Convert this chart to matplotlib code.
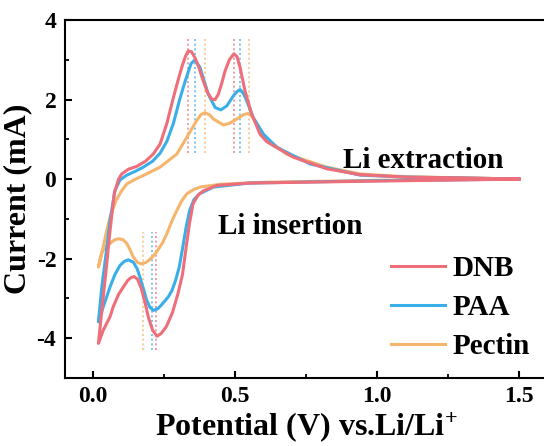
import matplotlib
matplotlib.use("Agg")
import matplotlib.pyplot as plt
from matplotlib.ticker import MultipleLocator

plt.rcParams['font.family'] = ['Liberation Serif', 'DejaVu Serif']
plt.rcParams['font.weight'] = 'bold'
plt.rcParams['mathtext.fontset'] = 'custom'
plt.rcParams['mathtext.rm'] = 'Liberation Serif:bold'
plt.rcParams['mathtext.it'] = 'Liberation Serif:bold'
plt.rcParams['mathtext.bf'] = 'Liberation Serif:bold'

# ---- data ----
# DNB
dnb_cat_x = [1.5, 1.2, 1.0, 0.729, 0.55, 0.436, 0.39, 0.37, 0.352, 0.34, 0.328, 0.315, 0.299,
             0.28, 0.258, 0.24, 0.225, 0.21, 0.196, 0.183, 0.17, 0.157, 0.145, 0.133, 0.122,
             0.106, 0.09, 0.071, 0.06, 0.036, 0.019]
dnb_cat_y = [0.0, -0.03, -0.05, -0.08, -0.1, -0.16, -0.29, -0.4, -0.62, -1.1, -1.71, -2.4, -2.88,
             -3.35, -3.71, -3.88, -3.95, -3.8, -3.5, -3.1, -2.75, -2.52, -2.45, -2.48, -2.55,
             -2.72, -2.9, -3.21, -3.46, -3.8, -4.13]
dnb_an_x = [0.019, 0.031, 0.046, 0.06, 0.075, 0.09, 0.101, 0.125, 0.154, 0.185, 0.212, 0.236,
            0.26, 0.283, 0.3, 0.312, 0.325, 0.335, 0.347, 0.359, 0.373, 0.388, 0.403, 0.418,
            0.43, 0.441, 0.453, 0.465, 0.48, 0.496, 0.507, 0.518, 0.535, 0.559, 0.588, 0.61,
            0.635, 0.705, 0.823, 0.94, 1.1, 1.3, 1.5]
dnb_an_y = [-4.13, -3.3, -2.29, -1.29, -0.35, 0.0, 0.13, 0.25, 0.32, 0.45, 0.63, 0.88,
            1.4, 2.05, 2.5, 2.8, 3.08, 3.22, 3.2, 3.05, 2.8, 2.47, 2.18, 2.01,
            2.0, 2.13, 2.4, 2.72, 3.0, 3.15, 3.08, 2.8, 2.22, 1.63, 1.13, 0.95,
            0.84, 0.55, 0.26, 0.11, 0.05, 0.03, 0.0]

# PAA
paa_cat_x = [1.5, 1.0, 0.55, 0.424, 0.375, 0.355, 0.34, 0.328, 0.316, 0.304, 0.291, 0.278,
             0.265, 0.24, 0.228, 0.212, 0.2, 0.189, 0.177, 0.165, 0.155, 0.142, 0.124, 0.11,
             0.095, 0.077, 0.06, 0.036, 0.019]
paa_cat_y = [0.0, -0.04, -0.1, -0.2, -0.37, -0.52, -0.79, -1.2, -1.71, -2.2, -2.54, -2.8,
             -2.96, -3.17, -3.26, -3.3, -3.22, -3.05, -2.75, -2.46, -2.25, -2.09, -2.03, -2.07,
             -2.17, -2.4, -2.71, -3.21, -3.59]
paa_an_x = [0.019, 0.031, 0.046, 0.06, 0.077, 0.095, 0.119, 0.15, 0.177, 0.21, 0.236, 0.26,
            0.283, 0.305, 0.324, 0.345, 0.359, 0.377, 0.392, 0.406, 0.43, 0.45, 0.471, 0.494,
            0.507, 0.518, 0.53, 0.541, 0.564, 0.6, 0.647, 0.764, 0.94, 1.1, 1.3, 1.5]
paa_an_y = [-3.58, -2.71, -1.87, -1.04, -0.29, -0.02, 0.1, 0.2, 0.3, 0.45, 0.65, 0.95,
            1.4, 2.0, 2.45, 2.9, 3.0, 2.8, 2.45, 2.13, 1.8, 1.74, 1.84, 2.09,
            2.2, 2.25, 2.15, 1.97, 1.55, 1.13, 0.8, 0.38, 0.1, 0.05, 0.03, 0.0]

# Pectin
pec_cat_x = [1.5, 1.0, 0.6, 0.45, 0.377, 0.355, 0.33, 0.312, 0.295, 0.278, 0.26, 0.245,
             0.224, 0.21, 0.195, 0.185, 0.171, 0.157, 0.142, 0.132, 0.119, 0.105, 0.089,
             0.075, 0.06, 0.045, 0.03, 0.019]
pec_cat_y = [0.0, -0.03, -0.08, -0.13, -0.2, -0.26, -0.37, -0.55, -0.79, -1.05, -1.37, -1.6,
             -1.83, -1.95, -2.05, -2.1, -2.13, -2.1, -1.96, -1.8, -1.62, -1.52, -1.5,
             -1.53, -1.62, -1.7, -1.85, -2.21]
pec_an_x = [0.019, 0.03, 0.045, 0.06, 0.08, 0.101, 0.119, 0.15, 0.177, 0.236, 0.295, 0.33,
            0.365, 0.38, 0.394, 0.41, 0.424, 0.459, 0.48, 0.506, 0.53, 0.547, 0.562, 0.576,
            0.612, 0.682, 0.823, 0.94, 1.1, 1.3, 1.5]
pec_an_y = [-2.21, -1.9, -1.4, -0.95, -0.55, -0.29, -0.12, 0.0, 0.09, 0.3, 0.63, 1.05,
            1.47, 1.62, 1.67, 1.62, 1.51, 1.36, 1.4, 1.51, 1.62, 1.65, 1.56, 1.38,
            1.0, 0.63, 0.3, 0.13, 0.06, 0.03, 0.0]

# peak markers (dotted vertical lines)
anodic_peaks = {'DNB': [0.335, 0.496], 'PAA': [0.359, 0.518], 'Pectin': [0.394, 0.549]}
cathodic_peaks = {'DNB': [0.222], 'PAA': [0.207], 'Pectin': [0.175]}
anodic_span = (0.65, 3.56)
cathodic_span = (-4.3, -1.33)

labels = ['DNB', 'PAA', 'Pectin']
colors = {'DNB': '#EE6E7A', 'PAA': '#3AAEE8', 'Pectin': '#F5B56C'}
series = {
    'DNB': (dnb_cat_x + dnb_an_x, dnb_cat_y + dnb_an_y),
    'PAA': (paa_cat_x + paa_an_x, paa_cat_y + paa_an_y),
    'Pectin': (pec_cat_x + pec_an_x, pec_cat_y + pec_an_y),
}

fig = plt.figure(figsize=(5.44, 4.46), dpi=100)
ax = fig.add_axes([0.1188, 0.1525, 0.8875, 0.8027])

for name in labels:
    for xv in anodic_peaks[name]:
        ax.plot([xv, xv], anodic_span, ls=(0, (1.2, 1.6)), lw=1.2, color=colors[name], alpha=0.8)
    for xv in cathodic_peaks[name]:
        ax.plot([xv, xv], cathodic_span, ls=(0, (1.2, 1.6)), lw=1.2, color=colors[name], alpha=0.8)

for name in labels[::-1]:
    xs, ys = series[name]
    ax.plot(xs, ys, color=colors[name], lw=2.2, solid_joinstyle='round', label=name)

handles, labs = ax.get_legend_handles_labels()
order = [labs.index(n) for n in labels]
leg = ax.legend([handles[i] for i in order], [labs[i] for i in order],
                loc='lower right', bbox_to_anchor=(1.006, -0.008), frameon=False,
                fontsize=21, handlelength=1.85, handletextpad=0.25, labelspacing=0.42,
                borderaxespad=0.3)

ax.text(0.88, 0.46, 'Li extraction', fontsize=21, fontweight='bold', va='center', ha='left')
ax.text(0.44, -1.19, 'Li insertion', fontsize=21, fontweight='bold', va='center', ha='left')

ax.set_xlim(-0.1, 1.6)
ax.set_ylim(-5, 4)
ax.xaxis.set_minor_locator(MultipleLocator(0.25))
ax.yaxis.set_minor_locator(MultipleLocator(1))
ax.set_xticks([0.0, 0.5, 1.0, 1.5])
ax.set_xticklabels(['0.0', '0.5', '1.0', '1.5'])
ax.set_yticks([-4, -2, 0, 2, 4])
ax.set_yticklabels(['-4', '-2', '0', '2', '4'])
ax.tick_params(which='major', direction='in', length=5, width=1.5, labelsize=17, pad=6)
ax.tick_params(which='minor', direction='in', length=3, width=1.3)
ax.tick_params(top=False, right=False, which='both')
for s in ax.spines.values():
    s.set_linewidth(1.5)
ax.spines['right'].set_visible(False)

ax.set_xlabel('Potential (V) vs.Li/Li$^{+}$', fontsize=23, fontweight='bold', labelpad=2)
ax.set_ylabel('Current (mA)', fontsize=23, fontweight='bold', labelpad=3)

fig.savefig('out.png', dpi=100)
